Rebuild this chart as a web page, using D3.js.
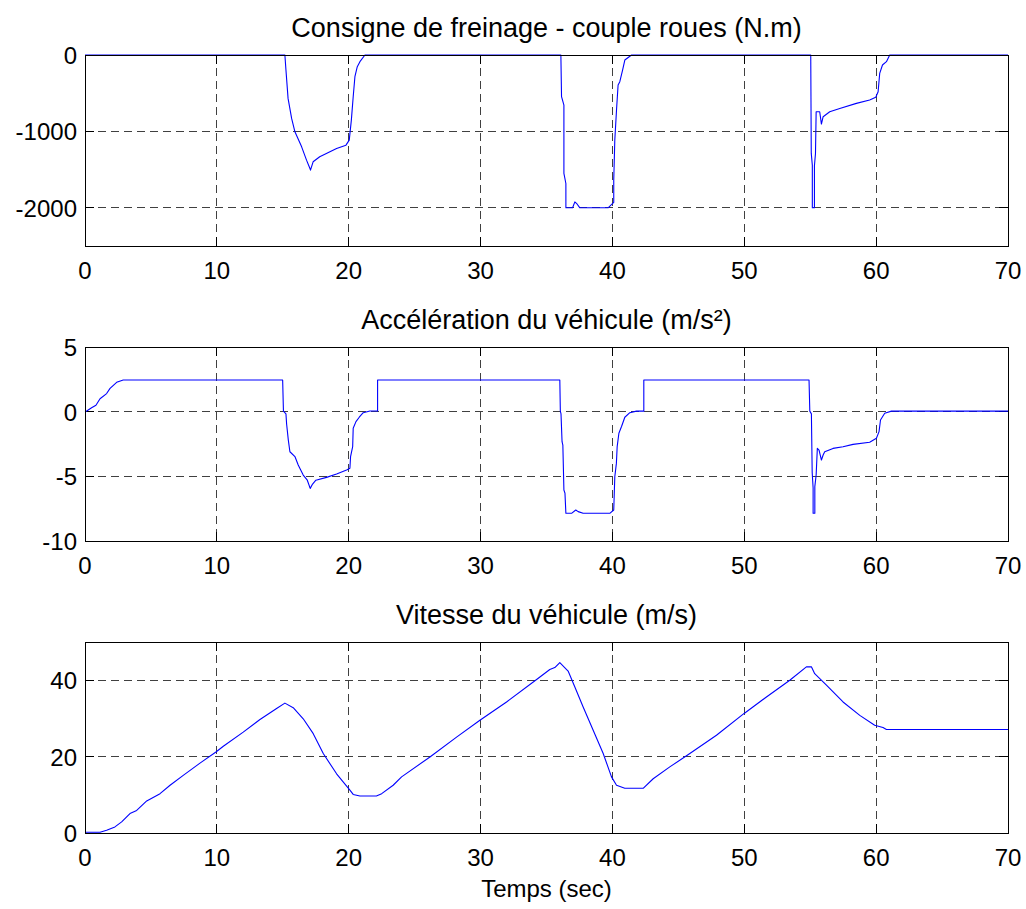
<!DOCTYPE html>
<html>
<head>
<meta charset="utf-8">
<script src="https://cdn.jsdelivr.net/npm/d3@7"></script>
<style>
  html, body { margin: 0; padding: 0; background: #fff; }
  svg { display: block; }
  text { font-family: "Liberation Sans", Arial, Helvetica, sans-serif; fill: #000; }
</style>
</head>
<body>
<svg id="chart" width="1026" height="909"></svg>
<script>
// Time axis ticks shared by all three panels (s)
const timeTicks = [0, 10, 20, 30, 40, 50, 60, 70];

// Braking set-point: wheel torque (N.m)
const torqueTime = [0, 15.16, 15.24, 15.40, 15.67, 15.92, 16.43, 16.80, 17.06, 17.10, 17.30, 17.80, 19.08, 19.79, 20.04, 20.20, 20.34, 20.47, 20.65, 20.85, 21.23,
  36.09, 36.14, 36.32, 36.32, 36.47, 36.47, 36.98, 37.15, 37.33, 37.53, 39.67, 40.10, 40.10, 40.18, 40.31, 40.43, 40.56, 40.77, 40.94, 41.45,
  55.04, 55.08, 55.16, 55.16, 55.32, 55.32, 55.40, 55.45, 55.72, 55.85, 55.98, 56.48, 57.24, 58.50, 59.51, 59.97, 60.15, 60.27, 60.48, 60.78, 61.03, 70];
const torqueValue = [0, 0, -197, -568, -830, -1005, -1202, -1376, -1485, -1507, -1398, -1332, -1223, -1180, -1114, -852, -546, -284, -153, -87, 0,
  0, -546, -655, -1550, -1682, -2000, -2000, -1923, -1953, -2000, -2000, -1930, -1638, -1114, -721, -393, -350, -197, -66, 0,
  0, -1288, -1442, -2000, -2000, -1450, -1290, -743, -743, -904, -808, -743, -699, -633, -590, -554, -481, -240, -131, -87, 0, 0];
const torqueTicks = [-2000, -1000, 0];

// Vehicle acceleration (m/s²)
const accelTime = [0, 0.10, 0.50, 0.83, 1.14, 1.64, 1.90, 2.40, 2.90, 14.99, 15.05, 15.24, 15.29, 15.42, 15.54, 15.92, 16.17, 16.55, 16.86, 17.08, 17.26, 17.51, 18.32, 19.08, 19.84, 20.09, 20.14, 20.30, 20.34, 20.55, 20.80, 21.10, 21.61, 22.19, 22.19,
  36.01, 36.05, 36.10, 36.18, 36.24, 36.32, 36.40, 36.47, 36.90, 37.22, 37.40, 37.78, 39.80, 40.10, 40.18, 40.30, 40.36, 40.49, 40.69, 40.94, 41.32, 41.82, 42.38, 42.38,
  54.91, 54.97, 55.09, 55.15, 55.22, 55.22, 55.35, 55.35, 55.45, 55.54, 55.67, 55.85, 55.98, 56.10, 56.73, 57.49, 58.25, 59.51, 60.02, 60.22, 60.33, 60.65, 61.16, 70];
const accelValue = [0, 0.03, 0.30, 0.50, 1.00, 1.40, 1.80, 2.27, 2.45, 2.45, 0.04, -0.17, -0.95, -2.20, -3.10, -3.47, -4.12, -4.90, -5.30, -5.93, -5.60, -5.30, -5.08, -4.82, -4.51, -4.38, -3.48, -2.71, -1.28, -0.77, -0.43, -0.08, 0.05, 0.05, 2.45,
  2.45, 0.04, -0.17, -2.32, -2.58, -6.06, -6.30, -7.86, -7.86, -7.60, -7.73, -7.86, -7.86, -7.60, -5.03, -4.00, -2.70, -1.67, -1.15, -0.43, -0.08, 0.04, 0.04, 2.45,
  2.45, 0.04, -0.17, -4.70, -5.90, -7.86, -7.86, -5.80, -4.90, -2.84, -2.97, -3.74, -3.35, -3.10, -2.84, -2.71, -2.53, -2.37, -2.06, -1.54, -0.64, -0.12, 0.04, 0.04];
const accelTicks = [-10, -5, 0, 5];

// Vehicle speed (m/s)
const speedTime = [0, 1.14, 1.64, 2.27, 2.78, 3.41, 3.92, 4.68, 5.69, 6.45, 7.45, 8.72, 9.93, 10.49, 12.00, 13.27, 14.53, 15.16, 15.79, 16.55, 17.31, 18.07, 19.08, 20.09, 20.34, 20.85, 22.10, 22.50, 23.37, 24.01, 26.16, 28.18, 29.95, 31.97, 34.25, 35.25, 35.63, 36.01, 36.64, 37.15, 37.78, 38.54, 39.30, 39.93, 40.31, 40.94, 42.33, 43.09, 44.35, 45.87, 47.89, 49.99, 51.68, 53.45, 54.71, 55.09, 55.34, 56.23, 57.49, 58.76, 59.89, 60.52, 60.78, 70];
const speedValue = [0.2, 0.2, 0.7, 1.6, 2.9, 5.1, 5.9, 8.4, 10.3, 12.5, 15.1, 18.3, 21.2, 22.7, 26.4, 29.7, 32.6, 34.0, 32.8, 29.9, 26.0, 20.8, 15.5, 11.2, 10.1, 9.7, 9.7, 10.3, 12.5, 14.7, 19.9, 25.1, 29.5, 34.3, 40.2, 42.8, 43.3, 44.6, 42.4, 38.2, 33.0, 26.9, 20.8, 14.7, 12.5, 11.7, 11.7, 14.2, 17.3, 20.8, 25.6, 31.3, 35.6, 40.0, 43.5, 43.5, 41.7, 38.7, 34.3, 30.8, 28.2, 27.6, 27.1, 27.1];
const speedTicks = [0, 20, 40];

const svg = d3.select("#chart");
const left = 85, right = 1008;
const FONT = 24;        // tick labels and x-axis label
const TITLE_FONT = 27;  // panel titles

const x = d3.scaleLinear().domain([0, 70]).range([left, right]);

function panel(opts) {
  const y = d3.scaleLinear().domain(opts.yDomain).range([opts.bottom, opts.top]);
  const g = svg.append("g");
  const tickLen = 9;

  // dashed grid
  g.append("g").selectAll("line").data(timeTicks.slice(1, -1)).join("line")
    .attr("x1", d => x(d)).attr("x2", d => x(d))
    .attr("y1", opts.top).attr("y2", opts.bottom)
    .attr("stroke", "#000").attr("stroke-opacity", 0.75)
    .attr("stroke-dasharray", "8,5").attr("stroke-width", 1)
    .attr("shape-rendering", "crispEdges");
  g.append("g").selectAll("line").data(opts.yTicks.filter(d => y(d) > opts.top + 0.5 && y(d) < opts.bottom - 0.5)).join("line")
    .attr("x1", left).attr("x2", right)
    .attr("y1", d => y(d)).attr("y2", d => y(d))
    .attr("stroke", "#000").attr("stroke-opacity", 0.75)
    .attr("stroke-dasharray", "8,5").attr("stroke-width", 1)
    .attr("shape-rendering", "crispEdges");

  // inward tick marks on all four sides
  const tk = g.append("g").attr("stroke", "#000").attr("stroke-width", 1).attr("shape-rendering", "crispEdges");
  timeTicks.forEach(d => {
    tk.append("line").attr("x1", x(d)).attr("x2", x(d)).attr("y1", opts.bottom).attr("y2", opts.bottom - tickLen);
    tk.append("line").attr("x1", x(d)).attr("x2", x(d)).attr("y1", opts.top).attr("y2", opts.top + tickLen);
  });
  opts.yTicks.forEach(d => {
    tk.append("line").attr("x1", left).attr("x2", left + tickLen).attr("y1", y(d)).attr("y2", y(d));
    tk.append("line").attr("x1", right).attr("x2", right - tickLen).attr("y1", y(d)).attr("y2", y(d));
  });

  // data line
  const pts = opts.t.map((t, i) => [t, opts.v[i]]);
  g.append("path").datum(pts)
    .attr("fill", "none").attr("stroke", "#0000ff").attr("stroke-width", 1.1)
    .attr("stroke-linejoin", "round")
    .attr("d", d3.line().x(d => x(d[0])).y(d => y(d[1])));

  // axes box
  g.append("rect").attr("x", left).attr("y", opts.top)
    .attr("width", right - left).attr("height", opts.bottom - opts.top)
    .attr("fill", "none").attr("stroke", "#000").attr("stroke-width", 1)
    .attr("shape-rendering", "crispEdges");

  // tick labels
  g.append("g").selectAll("text").data(timeTicks).join("text")
    .attr("x", d => x(d)).attr("y", opts.bottom + 33)
    .attr("text-anchor", "middle").attr("font-size", FONT)
    .text(d => d);
  g.append("g").selectAll("text").data(opts.yTicks).join("text")
    .attr("x", left - 8).attr("y", d => y(d) + 9)
    .attr("text-anchor", "end").attr("font-size", FONT)
    .text(d => d);

  // title
  g.append("text").attr("x", (left + right) / 2).attr("y", opts.top - 18)
    .attr("text-anchor", "middle").attr("font-size", TITLE_FONT)
    .text(opts.title);
}

panel({ top: 55, bottom: 246, yDomain: [-2500, 0], yTicks: torqueTicks,
  t: torqueTime, v: torqueValue, title: "Consigne de freinage - couple roues (N.m)" });
panel({ top: 347, bottom: 541, yDomain: [-10, 5], yTicks: accelTicks,
  t: accelTime, v: accelValue, title: "Accélération du véhicule (m/s²)" });
panel({ top: 642, bottom: 833, yDomain: [0, 50], yTicks: speedTicks,
  t: speedTime, v: speedValue, title: "Vitesse du véhicule (m/s)" });

svg.append("text").attr("x", (left + right) / 2).attr("y", 897)
  .attr("text-anchor", "middle").attr("font-size", FONT)
  .text("Temps (sec)");
</script>
</body>
</html>
